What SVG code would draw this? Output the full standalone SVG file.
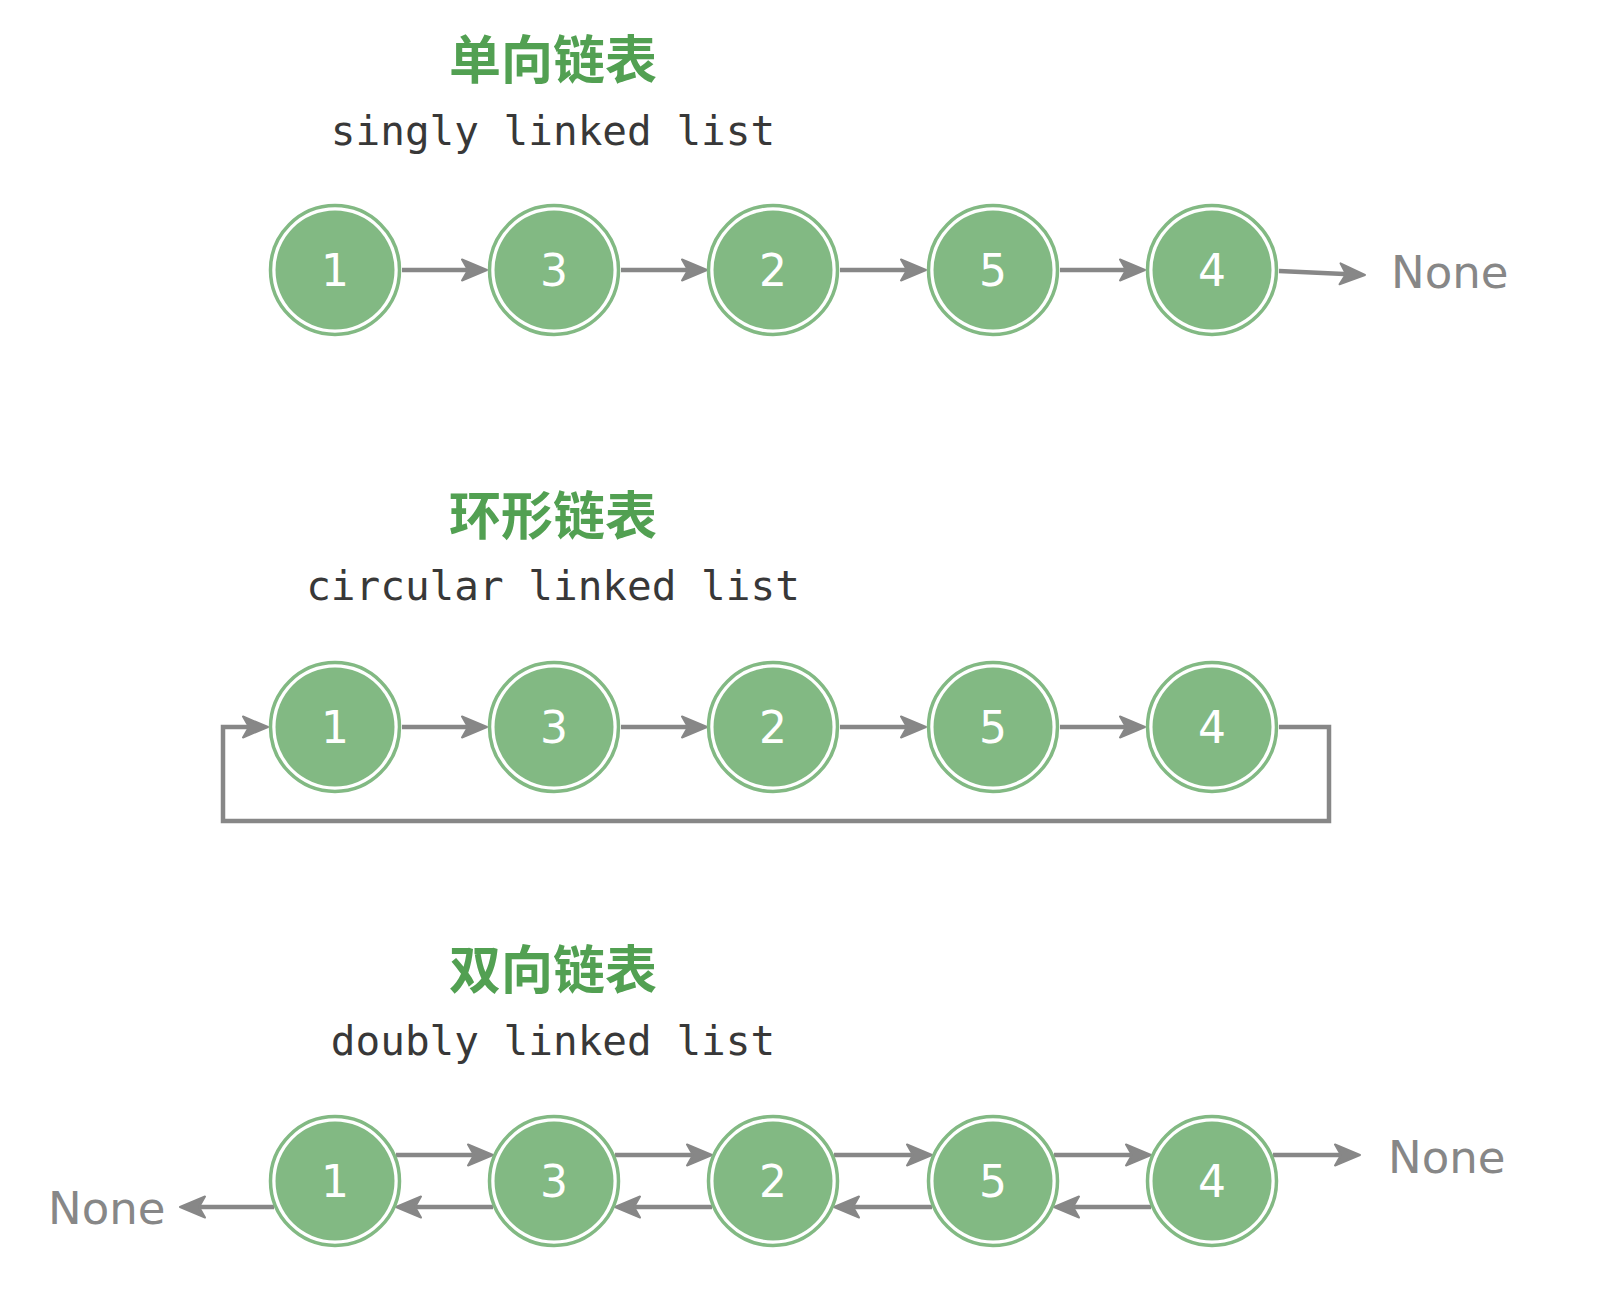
<svg xmlns="http://www.w3.org/2000/svg" width="1614" height="1304" viewBox="0 0 1614 1304">
  <style>
    .title { font-family: "Noto Sans CJK SC", "Noto Sans", sans-serif; font-weight: bold; font-size: 52px; fill: #52a052; text-anchor: middle; }
    .sub { font-family: "DejaVu Sans Mono", "Liberation Mono", monospace; font-size: 41px; fill: #383838; text-anchor: middle; }
    .ring { fill: #ffffff; stroke: #82b983; stroke-width: 3.5; }
    .core { fill: #82b983; }
    .val { font-family: "DejaVu Sans", "Noto Sans", sans-serif; font-size: 44px; fill: #ffffff; text-anchor: middle; }
    .none { font-family: "DejaVu Sans", "Noto Sans", sans-serif; font-size: 45px; fill: #878787; }
    .edge { fill: none; stroke: #878787; stroke-width: 4.5; }
  </style>
  <defs>
    <marker id="arr" markerUnits="userSpaceOnUse" markerWidth="40" markerHeight="40" refX="0" refY="0" orient="auto" overflow="visible" viewBox="-20 -20 40 40">
      <path d="M10,0 L-15,-10.5 L-9,0 L-15,10.5 Z" fill="#878787" stroke="#878787" stroke-width="2" stroke-linejoin="round"/>
    </marker>
    <g id="nodeShape">
      <circle class="ring" r="64.5"/>
      <circle class="core" r="59.5"/>
    </g>
  </defs>
  <rect width="1614" height="1304" fill="#ffffff"/>

  <!-- Titles -->
  <g id="titles">
    <text class="title" x="553" y="79">单向链表</text>
    <text class="sub" x="553" y="145">singly linked list</text>
    <text class="title" x="553" y="535">环形链表</text>
    <text class="sub" x="553" y="600">circular linked list</text>
    <text class="title" x="553" y="989">双向链表</text>
    <text class="sub" x="553" y="1055">doubly linked list</text>
  </g>

  <!-- Connectors -->
  <g id="connectors">
    <!-- singly -->
    <line class="edge" x1="402" y1="270" x2="477" y2="270" marker-end="url(#arr)"/>
    <line class="edge" x1="621" y1="270" x2="697" y2="270" marker-end="url(#arr)"/>
    <line class="edge" x1="840" y1="270" x2="916" y2="270" marker-end="url(#arr)"/>
    <line class="edge" x1="1060" y1="270" x2="1135" y2="270" marker-end="url(#arr)"/>
    <line class="edge" x1="1279" y1="271" x2="1355" y2="274.5" marker-end="url(#arr)"/>
    <!-- circular -->
    <line class="edge" x1="402" y1="727" x2="477" y2="727" marker-end="url(#arr)"/>
    <line class="edge" x1="621" y1="727" x2="697" y2="727" marker-end="url(#arr)"/>
    <line class="edge" x1="840" y1="727" x2="916" y2="727" marker-end="url(#arr)"/>
    <line class="edge" x1="1060" y1="727" x2="1135" y2="727" marker-end="url(#arr)"/>
    <path class="edge" d="M1279,727 H1329 V821 H223 V727 H258" marker-end="url(#arr)"/>
    <!-- doubly: next -->
    <line class="edge" x1="396" y1="1155" x2="483" y2="1155" marker-end="url(#arr)"/>
    <line class="edge" x1="615" y1="1155" x2="702" y2="1155" marker-end="url(#arr)"/>
    <line class="edge" x1="834" y1="1155" x2="922" y2="1155" marker-end="url(#arr)"/>
    <line class="edge" x1="1054" y1="1155" x2="1141" y2="1155" marker-end="url(#arr)"/>
    <line class="edge" x1="1273" y1="1155" x2="1350" y2="1155" marker-end="url(#arr)"/>
    <!-- doubly: prev -->
    <line class="edge" x1="493" y1="1207" x2="406" y2="1207" marker-end="url(#arr)"/>
    <line class="edge" x1="712" y1="1207" x2="625" y2="1207" marker-end="url(#arr)"/>
    <line class="edge" x1="932" y1="1207" x2="844" y2="1207" marker-end="url(#arr)"/>
    <line class="edge" x1="1151" y1="1207" x2="1064" y2="1207" marker-end="url(#arr)"/>
    <line class="edge" x1="274" y1="1207" x2="190" y2="1207" marker-end="url(#arr)"/>
  </g>

  <!-- None labels -->
  <g id="none-labels">
    <text class="none" x="1391" y="288">None</text>
    <text class="none" x="1388" y="1173">None</text>
    <text class="none" x="48" y="1224">None</text>
  </g>

  <!-- Singly nodes -->
  <g id="s1"><use href="#nodeShape" x="335" y="270"/><text class="val" x="335" y="286">1</text></g>
  <g id="s3"><use href="#nodeShape" x="554" y="270"/><text class="val" x="554" y="286">3</text></g>
  <g id="s2"><use href="#nodeShape" x="773" y="270"/><text class="val" x="773" y="286">2</text></g>
  <g id="s5"><use href="#nodeShape" x="993" y="270"/><text class="val" x="993" y="286">5</text></g>
  <g id="s4"><use href="#nodeShape" x="1212" y="270"/><text class="val" x="1212" y="286">4</text></g>

  <!-- Circular nodes -->
  <g id="c1"><use href="#nodeShape" x="335" y="727"/><text class="val" x="335" y="743">1</text></g>
  <g id="c3"><use href="#nodeShape" x="554" y="727"/><text class="val" x="554" y="743">3</text></g>
  <g id="c2"><use href="#nodeShape" x="773" y="727"/><text class="val" x="773" y="743">2</text></g>
  <g id="c5"><use href="#nodeShape" x="993" y="727"/><text class="val" x="993" y="743">5</text></g>
  <g id="c4"><use href="#nodeShape" x="1212" y="727"/><text class="val" x="1212" y="743">4</text></g>

  <!-- Doubly nodes -->
  <g id="d1"><use href="#nodeShape" x="335" y="1181"/><text class="val" x="335" y="1197">1</text></g>
  <g id="d3"><use href="#nodeShape" x="554" y="1181"/><text class="val" x="554" y="1197">3</text></g>
  <g id="d2"><use href="#nodeShape" x="773" y="1181"/><text class="val" x="773" y="1197">2</text></g>
  <g id="d5"><use href="#nodeShape" x="993" y="1181"/><text class="val" x="993" y="1197">5</text></g>
  <g id="d4"><use href="#nodeShape" x="1212" y="1181"/><text class="val" x="1212" y="1197">4</text></g>
</svg>
